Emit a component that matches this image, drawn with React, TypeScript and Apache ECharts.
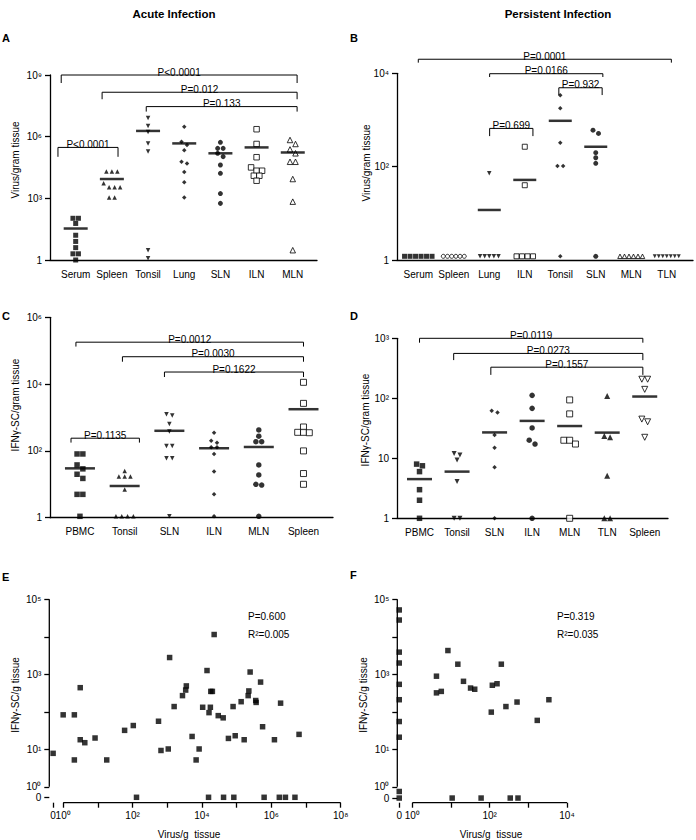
import React, { useEffect, useRef } from 'react';
import * as echarts from 'echarts';

const FONT = "'Liberation Sans', Arial, Helvetica, sans-serif";

// ---------------- Panel A : acute infection, virus / gram tissue ----------------
const catsA = ['Serum', 'Spleen', 'Tonsil', 'Lung', 'SLN', 'ILN', 'MLN'];
const valuesA = [
  [107, 107, 60, 16, 8, 4, 2, 2, 1],
  [2e4, 2e4, 2e4, 5.4e3, 3.5e3, 3.5e3, 3.5e3, 1.1e3, 1.1e3],
  [8e6, 3.3e6, 1.7e6, 4.7e5, 1.9e5, 3, 1.2],
  [3e6, 5.6e5, 3.9e5, 2.2e5, 6e4, 5e4, 1.9e4, 6e3, 1.1e3],
  [5.3e5, 2.7e5, 2.7e5, 1.55e5, 1.07e5, 4.2e4, 1.65e4, 1.7e3, 5.7e2],
  [2.3e6, 4.4e5, 1e5, 3.2e4, 2.2e4, 2.2e4, 1.26e4, 1.26e4, 7.2e3],
  [6.9e5, 4.4e5, 2.4e5, 1.55e5, 6e4, 6e4, 8.7e3, 6.9e2, 3],
];
const meansA = [34, 8.7e3, 1.9e6, 4.7e5, 1.55e5, 3e5, 1.7e5];
const pairsA = [[0, 6], [1, 6], [2, 6], [0, 1]];
const pTextA = ['P<0.0001', 'P=0.012', 'P=0.133', 'P<0.0001'];
const levelsA = [1e9, 1.45e8, 2.9e7, 3.0e5];

// ---------------- Panel B : persistent infection, virus / gram tissue ----------------
const catsB = ['Serum', 'Spleen', 'Lung', 'ILN', 'Tonsil', 'SLN', 'MLN', 'TLN'];
const valuesB = [
  [1.2, 1.2, 1.2, 1.2, 1.2, 1.2],
  [1.2, 1.2, 1.2, 1.2, 1.2, 1.2],
  [72, 1.2, 1.2, 1.2, 1.2, 1.2],
  [267, 40, 1.2, 1.2, 1.2, 1.2],
  [3400, 1780, 325, 103, 103, 1.2],
  [605, 515, 199, 155, 118, 1.2],
  [1.2, 1.2, 1.2, 1.2, 1.2, 1.2],
  [1.2, 1.2, 1.2, 1.2, 1.2, 1.2, 1.2],
];
const meansB = [null, null, 11.8, 52, 960, 267, null, null];
const pairsB = [[0, 7], [2, 5], [4, 5], [2, 3]];
const pTextB = ['P=0.0001', 'P=0.0166', 'P=0.932', 'P=0.699'];
const levelsB = [2.0e4, 9.8e3, 4.9e3, 660];

// ---------------- Panel C : acute infection, IFNγ-SC / gram tissue ----------------
const catsC = ['PBMC', 'Tonsil', 'SLN', 'ILN', 'MLN', 'Spleen'];
const valuesC = [
  [81, 81, 38, 29, 20, 15, 5, 5, 1.1],
  [25, 17, 17, 17, 7, 1.1, 1.1, 1.1, 1.1],
  [1250, 1150, 640, 380, 140, 140, 60, 60, 1.1],
  [350, 203, 176, 128, 128, 81, 24, 5, 1.1],
  [424, 275, 189, 189, 38, 19, 10, 9.5, 1.1],
  [1.13e4, 2650, 520, 360, 360, 350, 100, 21, 10],
];
const meansC = [30, 8.9, 400, 120, 131, 1770];
const pairsC = [[0, 5], [1, 5], [2, 5], [0, 1]];
const pTextC = ['P=0.0012', 'P=0.0030', 'P=0.1622', 'P=0.1135'];
const levelsC = [1.8e5, 6.6e4, 2.3e4, 240];

// ---------------- Panel D : persistent infection, IFNγ-SC / gram tissue ----------------
const catsD = ['PBMC', 'Tonsil', 'SLN', 'ILN', 'MLN', 'TLN', 'Spleen'];
const valuesD = [
  [8, 7.5, 6, 3, 2, 1],
  [12, 11.4, 9.4, 4.1, 1, 1],
  [62, 58, 24.5, 15, 7.1, 1],
  [112, 68, 32, 20, 17.3, 1],
  [94, 55, 20, 20, 17.3, 1],
  [109, 23.5, 22.4, 5.1, 1, 1],
  [208, 208, 141, 45, 40.6, 22.4],
];
const meansD = [4.5, 6, 27, 42, 34.5, 26.8, 107];
const pairsD = [[0, 6], [1, 6], [2, 6]];
const pTextD = ['P=0.0119', 'P=0.0273', 'P=0.1557'];
const levelsD = [1e3, 560, 330];

// ---------------- Panel E : acute correlation ----------------
const virusE = [0, 1.0, 2.1, 2.1, 3.1, 3.1, 4.2, 8.3, 18, 59, 105, 130, 560, 660, 1070, 1170, 1580, 2750, 3400, 3550,
  5200, 6800, 8300, 1.05e4, 1.4e4, 1.55e4, 1.6e4, 1.75e4, 1.8e4, 2.0e4, 2.25e4, 2.95e4, 4.1e4, 4.2e4, 5.8e4, 7.9e4,
  8.3e4, 9.1e4, 1.35e5, 1.65e5, 2.15e5, 2.25e5, 2.45e5, 3.55e5, 3.65e5, 4.9e5, 5.6e5, 6.2e5, 1.23e6, 1.7e6, 1.85e6,
  2.55e6, 4.8e6, 6.3e6];
const ifnE = [7.8, 83, 83, 5.2, 440, 18, 15, 20, 5.2, 32, 43, 0, 56, 9.3, 10.2, 2800, 138, 270, 380, 490,
  22, 5.2, 10.2, 132, 1260, 0, 95, 132, 350, 350, 1.15e4, 79, 69, 0, 19.5, 138,
  0, 23, 186, 18, 270, 360, 1150, 200, 178, 620, 40, 0, 18, 0, 170,
  0, 0, 25];
const statsE = ['P=0.600', 'R²=0.005'];

// ---------------- Panel F : persistent correlation ----------------
const virusF = [4.2, 4.2, 5.6, 8.3, 10.7, 15, 21, 32, 41, 60, 110, 117, 155, 200, 263, 340, 510, 540, 1700, 3400,
  0, 0, 0, 0, 0, 0, 0, 0, 0, 0];
const ifnF = [890, 320, 350, 4300, 0, 1860, 650, 430, 400, 0, 98, 510, 560, 1860, 138, 0, 182, 0, 59, 210,
  5.2e4, 2.8e4, 3900, 2000, 540, 210, 55, 21, 0.75, 0];
const statsF = ['P=0.319', 'R²=0.035'];

// ---------------- layout / styles ----------------
type Lay = { left: number; top: number; width: number; height: number; xMin: number; xMax: number; maxExp: number; logBase: number; plainTen?: boolean };
const LAY: Record<string, Lay> = {
  A: { left: 50, top: 75, width: 267, height: 185, xMin: -0.71, xMax: 6.67, maxExp: 9, logBase: 1000 },
  B: { left: 397, top: 73.3, width: 296, height: 186.7, xMin: -0.6, xMax: 7.74, maxExp: 4, logBase: 100 },
  C: { left: 50, top: 317.3, width: 283, height: 200.4, xMin: -0.67, xMax: 5.66, maxExp: 6, logBase: 100 },
  D: { left: 397, top: 338.3, width: 271, height: 180, xMin: -0.6, xMax: 6.62, maxExp: 3, logBase: 10, plainTen: true },
};
const LAY_E = { left: 49.3, top: 599.3, width: 291.4, height: 203.4, xMin: -0.4, xMax: 8, yMin: -0.424, yMax: 5, zeroX: -0.29, zeroY: -0.28 };
const LAY_F = { left: 397.3, top: 599.3, width: 169.7, height: 203.4, xMin: -0.39, xMax: 4, yMin: -0.424, yMax: 5, zeroX: -0.34, zeroY: -0.3 };

type Sty = { symbol: string; size: number; rot?: number; open?: boolean; gap: number };
const sq = (size: number, gap: number, open = false): Sty => ({ symbol: 'rect', size, gap, open });
const up = (size: number, gap: number, open = false): Sty => ({ symbol: 'triangle', size, gap, open });
const dn = (size: number, gap: number, open = false): Sty => ({ symbol: 'triangle', rot: 180, size, gap, open });
const ci = (size: number, gap: number, open = false): Sty => ({ symbol: 'circle', size, gap, open });
const di = (size: number, gap: number): Sty => ({ symbol: 'diamond', size, gap });

const styleA = [sq(5, 5.5), up(4.5, 5.5), dn(4.5, 5.5), di(4.5, 5.5), ci(5, 5.5), sq(5.5, 5.5, true), up(5.5, 5.5, true)];
const styleB = [sq(5, 5.5), ci(4, 4.2, true), dn(4.5, 4.6), sq(5, 5.5, true), di(4.5, 5.7), ci(5, 5.5), up(4.5, 4.5, true), dn(4, 4)];
const styleC = [sq(5.5, 5.8), up(4.5, 5.8), dn(4.5, 5.8), di(4.5, 5.8), ci(5.5, 5.8), sq(6, 5.8, true)];
const styleD = [sq(5.5, 5.8), dn(5, 5.8), di(4.5, 5.8), ci(5.5, 5.8), sq(6, 5.8, true), up(6, 5.8), dn(6, 5.8, true)];

// bracket end nudges (category units) and tick drop (px)
const endsA = [[-0.4, 0.12], [-0.27, 0.12], [-0.05, 0.12], [-0.49, 0.17]];
const dropsA = [8, 7, 5, 9.4];
const endsB = [[0, 0.13], [0.01, 0.2], [-0.04, 0.18], [0.01, 0.23]];
const dropsB = [3.4, 3.3, 7.3, 7.7];
const endsC = [[-0.09, 0], [-0.05, 0], [-0.11, 0], [-0.2, 0.33]];
const dropsC = [4.4, 5, 5, 4.4];
const endsD = [[0, -0.05], [-0.09, -0.05], [-0.1, -0.05]];
const dropsD = [4.4, 6.7, 7.7];

const SUP: Record<string, string> = { '0': '⁰', '1': '¹', '2': '²', '3': '³', '4': '⁴', '5': '⁵', '6': '⁶', '7': '⁷', '8': '⁸', '9': '⁹' };
const sup = (e: number) => String(e).split('').map((c) => SUP[c] ?? c).join('');
const powLabel = (e: number, plainTen = false) => (e === 0 ? '1' : e === 1 && plainTen ? '10' : '10' + sup(e));

const BLACK = '#000';
const axisLineStyle = { color: BLACK, width: 1.3 };
const labelBase = { color: BLACK, fontSize: 10, fontFamily: FONT };

type Annot = { grid: number; x: number; y: number; text: string; dy: number; vAlign: string };

function swarm(vals: number[], pxPerDec: number, thresh: number, gapPx: number, unitPx: number) {
  const idx = vals.map((_, k) => k).sort((a, b) => vals[b] - vals[a]);
  const rows: number[][] = [];
  let startY = Infinity;
  for (const k of idx) {
    const y = Math.log10(vals[k]) * pxPerDec;
    if (rows.length && startY - y < thresh) rows[rows.length - 1].push(k);
    else {
      rows.push([k]);
      startY = y;
    }
  }
  const off = new Array(vals.length).fill(0);
  rows.forEach((r) => r.forEach((k, j) => { off[k] = ((j - (r.length - 1) / 2) * gapPx) / unitPx; }));
  return off;
}

function pointItemStyle(s: { open?: boolean }) {
  return s.open ? { color: '#fff', borderColor: BLACK, borderWidth: 1 } : { color: BLACK, borderWidth: 0 };
}

function catPanel(
  opt: any, annots: Annot[], idx: number, lay: Lay, cats: string[], values: number[][], means: (number | null)[], styles: Sty[],
  meanW: number, pairs: number[][], pTexts: string[], levels: number[], ends: number[][], drops: number[], thresh: number,
) {
  const unitPx = lay.width / (lay.xMax - lay.xMin);
  const pxPerDec = lay.height / lay.maxExp;
  opt.grid.push({ left: lay.left, top: lay.top, width: lay.width, height: lay.height, containLabel: false, outerBoundsMode: 'none' });
  opt.xAxis.push({
    gridIndex: idx, type: 'value', min: lay.xMin, max: lay.xMax,
    axisLine: { show: true, onZero: false, lineStyle: axisLineStyle },
    axisTick: { show: false }, splitLine: { show: false },
    axisLabel: {
      ...labelBase, margin: 9, hideOverlap: false, showMinLabel: true, showMaxLabel: true,
      customValues: cats.map((_, i) => i), formatter: (v: number) => cats[Math.round(v)] ?? '',
    },
  });
  opt.yAxis.push({
    gridIndex: idx, type: 'log', logBase: lay.logBase, min: 1, max: Math.pow(10, lay.maxExp),
    axisLine: { show: true, onZero: false, lineStyle: axisLineStyle },
    axisTick: { show: true, length: 5, lineStyle: axisLineStyle },
    minorTick: { show: false }, splitLine: { show: false },
    axisLabel: { ...labelBase, margin: 8, formatter: (v: number) => powLabel(Math.round(Math.log10(v)), lay.plainTen) },
  });
  values.forEach((vals, g) => {
    const st = styles[g];
    const off = swarm(vals, pxPerDec, thresh, st.gap, unitPx);
    opt.series.push({
      type: 'scatter', xAxisIndex: idx, yAxisIndex: idx, silent: true, z: 3,
      symbol: st.symbol, symbolSize: st.size, symbolRotate: st.rot || 0,
      itemStyle: pointItemStyle(st),
      data: vals.map((v, k) => [g + off[k], v]),
    });
  });
  opt.series.push({
    type: 'scatter', xAxisIndex: idx, yAxisIndex: idx, silent: true, z: 4,
    symbol: 'rect', symbolSize: [meanW, 2.5], itemStyle: { color: BLACK },
    data: means.map((m, g) => (m == null ? null : [g, m])).filter((d) => d !== null),
  });
  pairs.forEach((p, b) => {
    const x1 = p[0] + ends[b][0];
    const x2 = p[1] + ends[b][1];
    const lvl = levels[b];
    const tick = lvl / Math.pow(10, drops[b] / pxPerDec);
    opt.series.push({
      type: 'line', xAxisIndex: idx, yAxisIndex: idx, silent: true, z: 2, clip: false,
      symbol: 'none', showSymbol: false, lineStyle: { color: BLACK, width: 1 },
      data: [[x1, tick], [x1, lvl], [x2, lvl], [x2, tick]],
    });
    annots.push({ grid: idx, x: (x1 + x2) / 2, y: lvl, text: pTexts[b], dy: 2, vAlign: 'bottom' });
  });
}

function corrPanel(opt: any, annots: Annot[], idx: number, lay: typeof LAY_E, virus: number[], ifn: number[], xLabelExps: number[], yLabelExps: number[]) {
  const toPos = (v: number, zero: number) => (v > 0 ? Math.log10(v) : zero);
  opt.grid.push({ left: lay.left, top: lay.top, width: lay.width, height: lay.height, containLabel: false, outerBoundsMode: 'none' });
  const xTicks = [lay.zeroX];
  for (let e = 0; e <= lay.xMax; e++) xTicks.push(e);
  const yTicks = [lay.zeroY];
  for (let e = 0; e <= lay.yMax; e++) yTicks.push(e);
  const fmt = (v: number) => (v < -0.1 ? '0' : '10' + sup(Math.round(v)));
  opt.xAxis.push({
    gridIndex: idx, type: 'value', min: lay.xMin, max: lay.xMax,
    axisLine: { show: false, onZero: false },
    axisTick: { show: true, length: 5, customValues: xTicks, lineStyle: axisLineStyle },
    splitLine: { show: false },
    axisLabel: {
      ...labelBase, margin: 8, hideOverlap: false, showMinLabel: true, showMaxLabel: true,
      customValues: xLabelExps, formatter: fmt,
    },
  });
  // the "0" label of the broken x axis (kept apart so it is not hidden as overlapping)
  annots.push({ grid: idx, x: lay.zeroX, y: lay.yMin, text: '0', dy: 8, vAlign: 'top' });
  opt.yAxis.push({
    gridIndex: idx, type: 'value', min: lay.yMin, max: lay.yMax,
    axisLine: { show: false, onZero: false },
    axisTick: { show: true, length: 5, customValues: yTicks, lineStyle: axisLineStyle },
    splitLine: { show: false },
    axisLabel: {
      ...labelBase, margin: 8, hideOverlap: false, showMinLabel: true, showMaxLabel: true,
      customValues: [lay.zeroY, ...yLabelExps], formatter: fmt,
    },
  });
  opt.series.push({
    type: 'line', xAxisIndex: idx, yAxisIndex: idx, silent: true, clip: false, symbol: 'none', showSymbol: false,
    lineStyle: axisLineStyle, data: [[lay.xMin, 0], [lay.xMin, lay.yMax]],
  });
  opt.series.push({
    type: 'line', xAxisIndex: idx, yAxisIndex: idx, silent: true, clip: false, symbol: 'none', showSymbol: false,
    lineStyle: axisLineStyle, data: [[0, lay.yMin], [lay.xMax, lay.yMin]],
  });
  opt.series.push({
    type: 'scatter', xAxisIndex: idx, yAxisIndex: idx, silent: true, clip: false, z: 3,
    symbol: 'rect', symbolSize: 5.5, itemStyle: { color: BLACK },
    data: virus.map((v, k) => [toPos(v, lay.zeroX), toPos(ifn[k], lay.zeroY)]),
  });
}

function txt(x: number, y: number, text: string, opts: any = {}) {
  const align = opts.align || 'center';
  const v = opts.vAlign || 'middle';
  return {
    type: 'text', x, y, rotation: opts.rotation || 0, silent: true, z: 10,
    style: {
      text, fill: BLACK, font: opts.font || `10px ${FONT}`,
      textAlign: align, align, textVerticalAlign: v, verticalAlign: v,
    },
  };
}

function buildOption(annots: Annot[]) {
  const opt: any = { animation: false, backgroundColor: '#fff', grid: [], xAxis: [], yAxis: [], series: [] };
  catPanel(opt, annots, 0, LAY.A, catsA, valuesA, meansA, styleA, 24, pairsA, pTextA, levelsA, endsA, dropsA, 4.5);
  catPanel(opt, annots, 1, LAY.B, catsB, valuesB, meansB, styleB, 23, pairsB, pTextB, levelsB, endsB, dropsB, 4.5);
  catPanel(opt, annots, 2, LAY.C, catsC, valuesC, meansC, styleC, 30, pairsC, pTextC, levelsC, endsC, dropsC, 5);
  catPanel(opt, annots, 3, LAY.D, catsD, valuesD, meansD, styleD, 25, pairsD, pTextD, levelsD, endsD, dropsD, 5);
  corrPanel(opt, annots, 4, LAY_E, virusE, ifnE, [0, 2, 4, 6, 8], [0, 1, 3, 5]);
  corrPanel(opt, annots, 5, LAY_F, virusF, ifnF, [0, 2, 4], [0, 1, 3, 5]);
  return opt;
}

function staticGraphics() {
  const bold = `bold 11.5px ${FONT}`;
  const letter = `bold 11px ${FONT}`;
  const rot = Math.PI / 2;
  return [
    txt(174, 14, 'Acute Infection', { font: bold }),
    txt(558, 14, 'Persistent Infection', { font: bold }),
    txt(2, 38, 'A', { font: letter, align: 'left' }),
    txt(350, 38, 'B', { font: letter, align: 'left' }),
    txt(2, 316, 'C', { font: letter, align: 'left' }),
    txt(350, 316, 'D', { font: letter, align: 'left' }),
    txt(2, 577, 'E', { font: letter, align: 'left' }),
    txt(350, 575, 'F', { font: letter, align: 'left' }),
    txt(15, 160, 'Virus/gram tissue', { rotation: rot }),
    txt(366, 163, 'Virus/gram tissue', { rotation: rot }),
    txt(15, 405, 'IFNγ-SC/gram tissue', { rotation: rot }),
    txt(365, 420, 'IFNγ-SC/gram tissue', { rotation: rot }),
    txt(15, 695, 'IFNγ-SC/g tissue', { rotation: rot }),
    txt(363, 695, 'IFNγ-SC/g tissue', { rotation: rot }),
    txt(189, 834, 'Virus/g  tissue'),
    txt(491, 834, 'Virus/g  tissue'),
    txt(248, 616, statsE[0], { align: 'left' }),
    txt(248, 634, statsE[1], { align: 'left' }),
    txt(557, 616, statsF[0], { align: 'left' }),
    txt(557, 634, statsF[1], { align: 'left' }),
  ];
}

export default function App() {
  const ref = useRef<HTMLDivElement>(null);
  useEffect(() => {
    if (!ref.current) return;
    const chart = echarts.init(ref.current, null, { renderer: 'svg', width: 696, height: 840 });
    const annots: Annot[] = [];
    chart.setOption(buildOption(annots));
    const dynamic = annots.map((a) => {
      const p = chart.convertToPixel({ gridIndex: a.grid } as any, [a.x, a.y]) as number[];
      return txt(p[0], p[1] + a.dy, a.text, { vAlign: a.vAlign });
    });
    chart.setOption({ graphic: [...staticGraphics(), ...dynamic] });
    return () => chart.dispose();
  }, []);
  return <div ref={ref} style={{ position: 'absolute', left: 0, top: 0, width: 696, height: 840, background: '#fff' }} />;
}
